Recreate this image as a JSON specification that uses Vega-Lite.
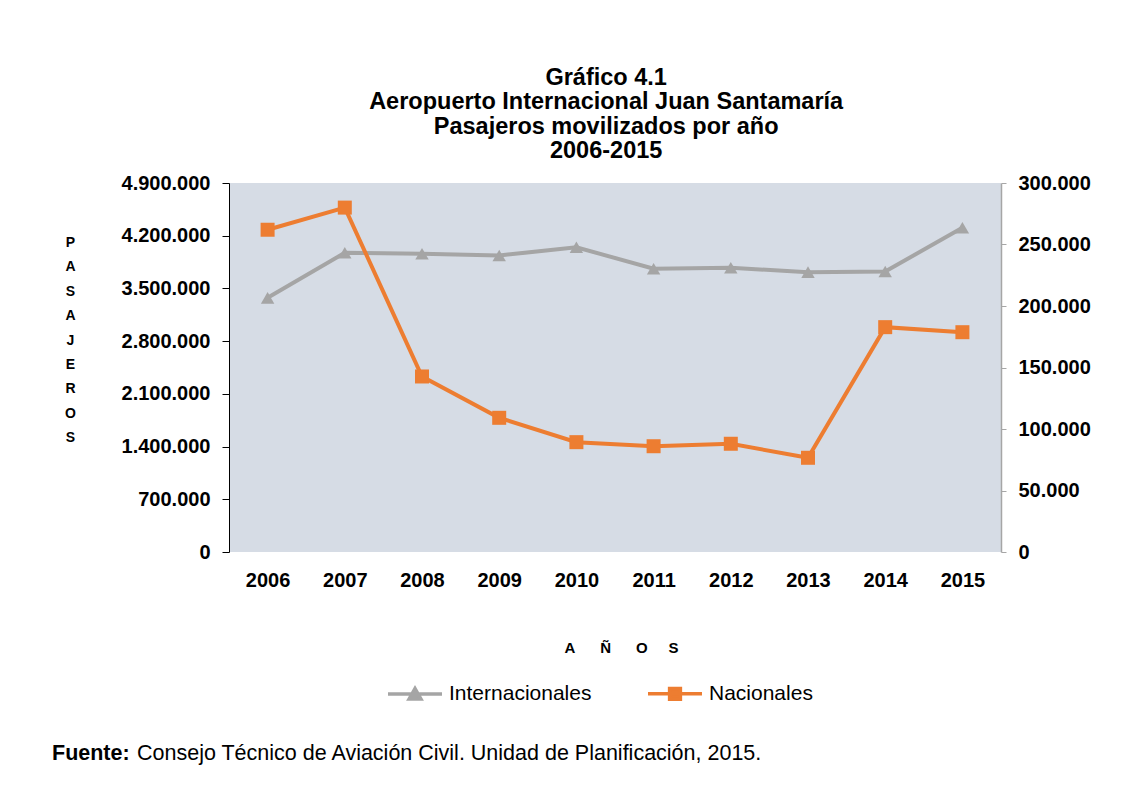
{
  "$schema": "https://vega.github.io/schema/vega-lite/v6.json",
  "autosize": {"type": "pad"},
  "padding": {"left": 52, "top": 65, "right": 5, "bottom": 5},
  "background": "white",
  "config": {
    "font": "Liberation Sans",
    "locale": {"number": {"decimal": ",", "thousands": ".", "grouping": [3], "currency": ["", ""]}},
    "view": {"stroke": null, "fill": "#D6DCE5"}
  },
  "resolve": {"legend": {"color": "independent"}},
  "title": {
    "text": ["Gráfico 4.1", "Aeropuerto Internacional Juan Santamaría", "Pasajeros movilizados por año", "2006-2015"],
    "anchor": "middle", "fontSize": 23.5, "fontWeight": "bold", "lineHeight": 24.5, "offset": 10.5, "dx": 35,
    "color": "black", "font": "Liberation Sans", "baseline": "top"
  },
  "vconcat": [
    {
      "resolve": {"legend": {"color": "independent"}},
      "title": {
        "text": "Consejo Técnico de Aviación Civil. Unidad de Planificación, 2015.",
        "orient": "bottom", "anchor": "start", "frame": "bounds", "fontSize": 21.5, "fontWeight": "normal",
        "color": "black", "font": "Liberation Sans", "baseline": "top", "offset": 0, "dx": 85, "dy": -21.5
      },
      "vconcat": [
        {
          "title": {
            "text": "Fuente:", "orient": "bottom", "anchor": "start", "frame": "group", "dx": -177,
            "fontSize": 21.5, "fontWeight": "bold", "color": "black", "font": "Liberation Sans", "baseline": "top", "offset": 36
          },
          "width": 772,
          "height": 369,
          "data": {
            "values": [
              {"year": "2006", "internacionales": 3375000, "nacionales": 262000},
              {"year": "2007", "internacionales": 3973000, "nacionales": 280000},
              {"year": "2008", "internacionales": 3960000, "nacionales": 142700},
              {"year": "2009", "internacionales": 3937000, "nacionales": 109100},
              {"year": "2010", "internacionales": 4047000, "nacionales": 89300},
              {"year": "2011", "internacionales": 3761000, "nacionales": 86000},
              {"year": "2012", "internacionales": 3774000, "nacionales": 88000},
              {"year": "2013", "internacionales": 3716000, "nacionales": 76600},
              {"year": "2014", "internacionales": 3725000, "nacionales": 182800},
              {"year": "2015", "internacionales": 4305000, "nacionales": 178700}
            ]
          },
          "encoding": {
            "x": {
              "field": "year", "type": "ordinal",
              "scale": {"type": "point", "padding": 0.5},
              "axis": {
                "orient": "bottom", "domain": false, "ticks": false, "tickSize": 0, "labelAngle": 0,
                "labelFont": "Liberation Sans", "labelFontSize": 20, "labelFontWeight": "bold", "labelColor": "black",
                "labelPadding": 18,
                "title": "A\u00a0\u00a0\u00a0\u00a0\u00a0\u00a0Ñ\u00a0\u00a0\u00a0\u00a0\u00a0\u00a0O\u00a0\u00a0\u00a0\u00a0\u00a0S",
                "titleFont": "Liberation Sans", "titleFontSize": 15, "titleFontWeight": "bold", "titleColor": "black",
                "titleX": 392, "titleY": 95.5, "titleBaseline": "middle", "titleAlign": "center"
              }
            }
          },
          "layer": [
            {
              "encoding": {
                "y": {
                  "field": "internacionales", "type": "quantitative",
                  "scale": {"domain": [0, 4900000], "nice": false, "zero": true},
                  "axis": {
                    "orient": "left", "grid": false,
                    "values": [0, 700000, 1400000, 2100000, 2800000, 3500000, 4200000, 4900000],
                    "format": ",.0f",
                    "labelFont": "Liberation Sans", "labelFontSize": 20, "labelFontWeight": "bold", "labelColor": "black",
                    "labelPadding": 12, "tickSize": 7, "tickColor": "black", "domainColor": "black",
                    "tickWidth": 1, "domainWidth": 1,
                    "title": ["P", "A", "S", "A", "J", "E", "R", "O", "S"],
                    "titleAngle": 0, "titleX": -159, "titleY": 59.5, "titleAlign": "center", "titleBaseline": "middle",
                    "titleFont": "Liberation Sans", "titleFontSize": 14, "titleFontWeight": "bold", "titleLineHeight": 24.4,
                    "titleColor": "black"
                  }
                }
              },
              "layer": [
                {
                  "mark": {"type": "line", "strokeWidth": 4},
                  "encoding": {
                    "color": {
                      "datum": "Internacionales", "type": "nominal",
                      "scale": {"domain": ["Internacionales", "Nacionales"], "range": ["#A5A5A5", "#ED7D31"]},
                      "legend": {
                        "orient": "none", "legendX": 157, "legendY": 481.5, "direction": "horizontal", "title": null,
                        "labelFont": "Liberation Sans", "labelFontSize": 21, "labelColor": "black",
                        "symbolSize": 2916, "symbolStrokeWidth": 3.5, "labelOffset": 5, "columnPadding": 49,
                        "encode": {
                          "symbols": {
                            "update": {
                              "shape": {"signal": "datum.value === 'Internacionales' ? 'M-1,0H1M-0.22,0.19L0,-0.2L0.22,0.19Z' : 'M-1,0H1M-0.2,-0.2H0.2V0.2H-0.2Z'"},
                              "fill": {"signal": "datum.value === 'Internacionales' ? '#A5A5A5' : '#ED7D31'"},
                              "stroke": {"signal": "datum.value === 'Internacionales' ? '#A5A5A5' : '#ED7D31'"},
                              "opacity": {"value": 1}
                            }
                          }
                        }
                      }
                    }
                  }
                },
                {
                  "mark": {"type": "point", "shape": "triangle-up", "filled": true, "size": 180, "color": "#A5A5A5", "opacity": 1}
                }
              ]
            },
            {
              "encoding": {
                "y": {
                  "field": "nacionales", "type": "quantitative",
                  "scale": {"domain": [0, 300000], "nice": false, "zero": true},
                  "axis": {
                    "orient": "right", "grid": false,
                    "values": [0, 50000, 100000, 150000, 200000, 250000, 300000],
                    "format": ",.0f",
                    "labelFont": "Liberation Sans", "labelFontSize": 20, "labelFontWeight": "bold", "labelColor": "black",
                    "labelPadding": 12, "tickSize": 5, "tickColor": "#A6A6A6", "domainColor": "#A6A6A6",
                    "tickWidth": 1, "domainWidth": 1.5, "title": null
                  }
                }
              },
              "layer": [
                {
                  "mark": {"type": "line", "strokeWidth": 4},
                  "encoding": {
                    "color": {"datum": "Nacionales", "type": "nominal"}
                  }
                },
                {
                  "mark": {"type": "point", "shape": "square", "filled": true, "size": 196, "color": "#ED7D31", "opacity": 1}
                }
              ]
            }
          ],
          "resolve": {"scale": {"y": "independent"}}
        }
      ]
    }
  ]
}
